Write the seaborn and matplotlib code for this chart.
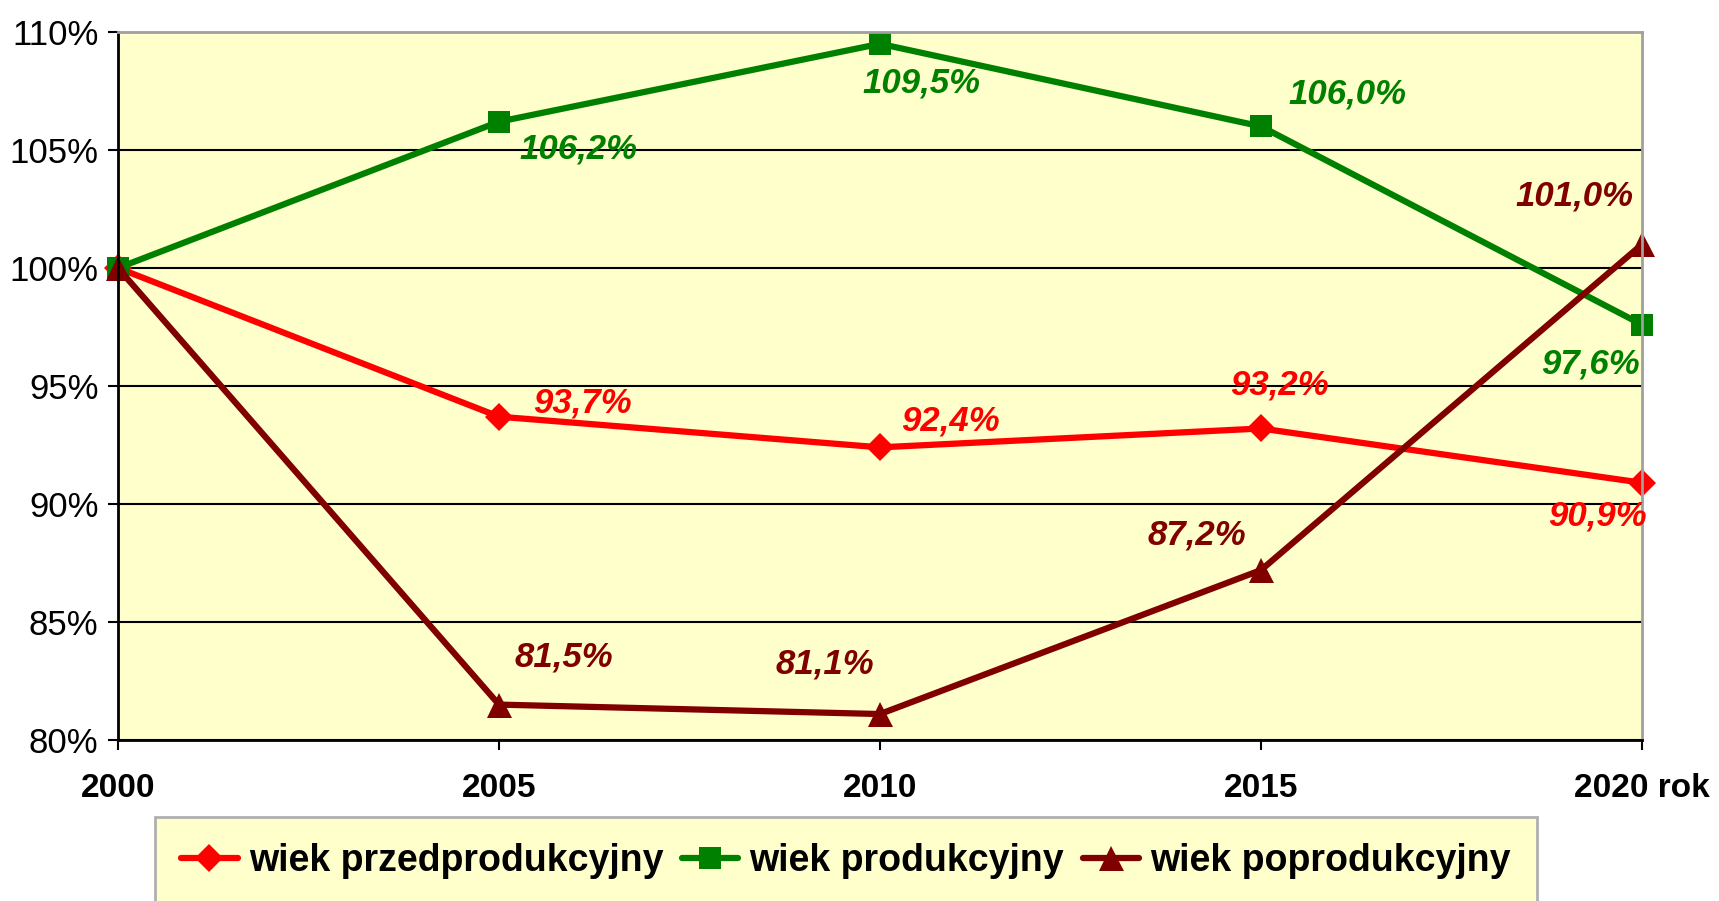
import pandas as pd
import seaborn as sns
import matplotlib.pyplot as plt

YEARS = [2000, 2005, 2010, 2015, 2020]
X_LABELS = ["2000", "2005", "2010", "2015", "2020 rok"]
Y_TICKS = [80, 85, 90, 95, 100, 105, 110]
SERIES = ["wiek przedprodukcyjny", "wiek produkcyjny", "wiek poprodukcyjny"]
PRZEDPRODUKCYJNY = [100.0, 93.7, 92.4, 93.2, 90.9]
PRODUKCYJNY = [100.0, 106.2, 109.5, 106.0, 97.6]
POPRODUKCYJNY = [100.0, 81.5, 81.1, 87.2, 101.0]

COLORS = ["#FF0000", "#008000", "#800000"]
MARKERS = ["D", "s", "^"]
MARKER_SIZES = [14, 16, 18]
# label offsets (points) for 2005..2020
OFFSETS = [
    [(60, 10), (51, 19), (13, 31), (-32, -24)],
    [(57, -20), (30, -28), (62, 23), (-37, -28)],
    [(47, 34), (-40, 36), (-46, 25), (-49, 35)],
]
FONT = ["Liberation Sans", "DejaVu Sans"]


def main():
    values = [PRZEDPRODUKCYJNY, PRODUKCYJNY, POPRODUKCYJNY]
    df = pd.DataFrame(
        [
            {"year": y, "value": v, "series": name}
            for name, vals in zip(SERIES, values)
            for y, v in zip(YEARS, vals)
        ]
    )

    sns.set_style("white")
    plt.rcParams["font.family"] = FONT
    plt.rcParams["text.color"] = "black"
    plt.rcParams["xtick.color"] = "black"
    plt.rcParams["ytick.color"] = "black"

    fig = plt.figure(figsize=(17.19, 9.01), dpi=100)
    ax = fig.add_axes([118 / 1719, 1 - 740 / 901, 1524 / 1719, 708 / 901])
    sns.lineplot(
        data=df,
        x="year",
        y="value",
        hue="series",
        style="series",
        hue_order=SERIES,
        style_order=SERIES,
        palette=COLORS,
        markers=MARKERS,
        dashes=False,
        linewidth=4.5,
        markeredgewidth=0,
        ax=ax,
    )
    lines = ax.get_lines()[:3]
    for line, ms in zip(lines, MARKER_SIZES):
        line.set_markersize(ms)
        line.set_clip_on(False)
    ax.get_legend().remove()

    for name, vals, color, offs in zip(SERIES, values, COLORS, OFFSETS):
        for y, v, off in zip(YEARS[1:], vals[1:], offs):
            ax.annotate(
                f"{v:.1f}".replace(".", ",") + "%",
                xy=(y, v),
                xytext=off,
                textcoords="offset points",
                ha="center",
                va="center",
                color=color,
                fontsize=25,
                fontweight="bold",
                fontstyle="italic",
            )

    ax.set_xlim(YEARS[0], YEARS[-1])
    ax.set_ylim(Y_TICKS[0], Y_TICKS[-1])
    ax.set_xticks(YEARS)
    ax.set_xticklabels(X_LABELS, fontsize=24, fontweight="bold")
    ax.set_yticks(Y_TICKS)
    ax.set_yticklabels([f"{t}%" for t in Y_TICKS], fontsize=25)
    ax.tick_params(axis="y", length=7, width=1.5, pad=7, direction="out", left=True)
    ax.tick_params(axis="x", length=7, width=1.5, pad=17, direction="out", bottom=True)
    ax.set(xlabel="", ylabel="")

    ax.set_facecolor("#FFFFCC")
    ax.grid(axis="y", color="black", linewidth=1.5)
    ax.grid(axis="x", visible=False)
    ax.set_axisbelow(True)
    for side in ["left", "bottom"]:
        ax.spines[side].set_color("black")
        ax.spines[side].set_linewidth(2)
    for side in ["top", "right"]:
        ax.spines[side].set_color("#A0A0A0")
        ax.spines[side].set_linewidth(2)

    leg = fig.legend(
        handles=lines,
        labels=SERIES,
        loc="upper left",
        bbox_to_anchor=(155 / 1719, 1 - 817 / 901),
        borderaxespad=0,
        ncol=3,
        frameon=True,
        fancybox=False,
        facecolor="#FFFFCC",
        edgecolor="#B0B0B0",
        framealpha=1,
        prop={"size": 27, "weight": "bold"},
        handlelength=1.5,
        handletextpad=0.3,
        columnspacing=0.5,
        borderpad=0.7,
    )
    leg.get_frame().set_linewidth(2)

    fig.set_facecolor("white")
    plt.savefig("out.png", dpi=100)


if __name__ == "__main__":
    main()
